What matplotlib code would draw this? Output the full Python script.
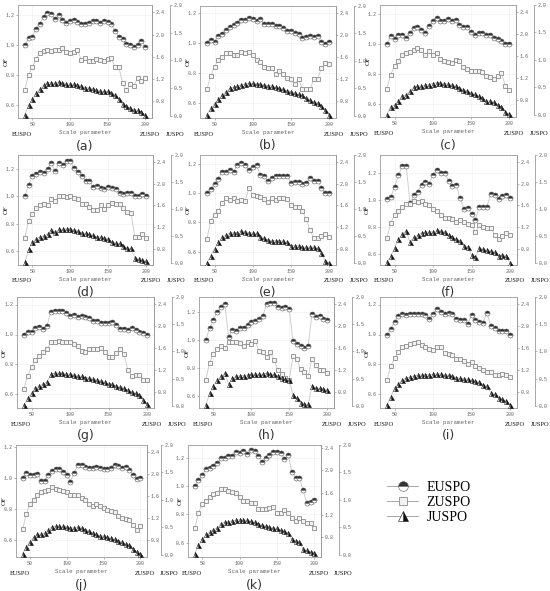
import matplotlib
matplotlib.use("Agg")
import matplotlib.pyplot as plt
from matplotlib.lines import Line2D

scale = [40, 45, 50, 55, 60, 65, 70, 75, 80, 85, 90, 95, 100, 105, 110, 115, 120,
         125, 130, 135, 140, 145, 150, 155, 160, 165, 170, 175, 180, 185, 190, 195, 200]

eu_a = [1.00, 1.045, 1.055, 1.11, 1.145, 1.19, 1.215, 1.21, 1.175, 1.20, 1.17, 1.15, 1.16, 1.17, 1.155, 1.14, 1.145,
        1.15, 1.16, 1.165, 1.15, 1.16, 1.155, 1.14, 1.095, 1.055, 1.04, 1.01, 1.00, 0.985, 1.00, 1.03, 0.99]
zu_a = [1.01, 1.27, 1.41, 1.56, 1.67, 1.70, 1.73, 1.70, 1.73, 1.72, 1.75, 1.69, 1.67, 1.69, 1.72, 1.55, 1.58,
        1.53, 1.52, 1.56, 1.54, 1.53, 1.56, 1.58, 1.41, 1.41, 1.12, 1.00, 1.11, 1.08, 1.22, 1.16, 1.22]
ju_a = [0.01, 0.19, 0.30, 0.41, 0.48, 0.55, 0.60, 0.60, 0.585, 0.61, 0.585, 0.58, 0.57, 0.57, 0.56, 0.54, 0.51,
        0.50, 0.49, 0.47, 0.45, 0.44, 0.44, 0.42, 0.38, 0.31, 0.21, 0.17, 0.14, 0.11, 0.10, 0.07, 0.01]

eu_b = [1.00, 1.02, 1.01, 1.05, 1.065, 1.09, 1.11, 1.12, 1.135, 1.155, 1.155, 1.17, 1.16, 1.15, 1.16, 1.13, 1.13,
        1.13, 1.115, 1.115, 1.105, 1.08, 1.08, 1.07, 1.06, 1.035, 1.04, 1.05, 1.04, 1.05, 1.01, 0.995, 1.01]
zu_b = [1.02, 1.27, 1.42, 1.55, 1.61, 1.67, 1.67, 1.64, 1.64, 1.69, 1.67, 1.69, 1.64, 1.55, 1.52, 1.42, 1.40,
        1.40, 1.29, 1.35, 1.29, 1.23, 1.20, 1.12, 1.20, 1.03, 1.02, 1.02, 1.20, 1.21, 1.41, 1.49, 1.47]
ju_b = [0.02, 0.14, 0.22, 0.30, 0.38, 0.44, 0.50, 0.52, 0.545, 0.56, 0.58, 0.59, 0.59, 0.58, 0.575, 0.56, 0.55,
        0.545, 0.52, 0.50, 0.485, 0.46, 0.44, 0.42, 0.39, 0.37, 0.33, 0.29, 0.25, 0.23, 0.18, 0.11, 0.02]

eu_c = [1.00, 1.05, 1.035, 1.06, 1.06, 1.04, 1.075, 1.105, 1.11, 1.09, 1.075, 1.12, 1.15, 1.175, 1.15, 1.15, 1.165,
        1.15, 1.16, 1.125, 1.11, 1.115, 1.08, 1.06, 1.07, 1.07, 1.06, 1.06, 1.04, 1.03, 1.02, 1.00, 1.00]
zu_c = [1.01, 1.27, 1.42, 1.52, 1.63, 1.66, 1.67, 1.72, 1.75, 1.72, 1.63, 1.69, 1.63, 1.66, 1.55, 1.52, 1.50,
        1.47, 1.53, 1.51, 1.40, 1.37, 1.34, 1.34, 1.33, 1.31, 1.25, 1.22, 1.18, 1.25, 1.29, 1.07, 0.99]
ju_c = [0.00, 0.15, 0.18, 0.26, 0.34, 0.36, 0.43, 0.50, 0.52, 0.52, 0.535, 0.55, 0.57, 0.585, 0.585, 0.57, 0.565,
        0.55, 0.52, 0.49, 0.46, 0.43, 0.40, 0.37, 0.34, 0.31, 0.26, 0.25, 0.23, 0.18, 0.135, 0.06, 0.01]

eu_d = [1.00, 1.085, 1.145, 1.165, 1.175, 1.17, 1.20, 1.24, 1.18, 1.24, 1.225, 1.255, 1.255, 1.205, 1.175, 1.15, 1.11,
        1.11, 1.065, 1.075, 1.06, 1.055, 1.07, 1.06, 1.05, 1.025, 1.015, 1.025, 1.02, 1.00, 1.00, 1.015, 1.005]
zu_d = [1.00, 1.32, 1.44, 1.55, 1.60, 1.63, 1.61, 1.71, 1.69, 1.77, 1.77, 1.75, 1.77, 1.74, 1.71, 1.63, 1.62,
        1.57, 1.52, 1.52, 1.60, 1.53, 1.60, 1.64, 1.62, 1.63, 1.56, 1.48, 1.46, 1.02, 1.02, 1.07, 1.00]
ju_d = [0.01, 0.25, 0.38, 0.45, 0.48, 0.50, 0.53, 0.61, 0.57, 0.62, 0.62, 0.63, 0.63, 0.61, 0.59, 0.56, 0.545,
        0.53, 0.51, 0.48, 0.48, 0.46, 0.44, 0.39, 0.36, 0.36, 0.32, 0.27, 0.27, 0.09, 0.07, 0.05, 0.03]

eu_e = [1.00, 1.03, 1.065, 1.095, 1.145, 1.145, 1.16, 1.145, 1.195, 1.205, 1.19, 1.16, 1.175, 1.19, 1.125, 1.115, 1.08,
        1.10, 1.12, 1.115, 1.115, 1.115, 1.07, 1.075, 1.075, 1.06, 1.07, 1.10, 1.08, 1.08, 1.035, 1.00, 1.00]
zu_e = [0.98, 1.31, 1.43, 1.50, 1.64, 1.73, 1.70, 1.73, 1.68, 1.70, 1.68, 1.92, 1.80, 1.77, 1.76, 1.71, 1.67,
        1.74, 1.70, 1.73, 1.73, 1.71, 1.61, 1.57, 1.57, 1.50, 1.35, 1.14, 0.99, 0.99, 1.03, 1.07, 1.01]
ju_e = [0.00, 0.13, 0.26, 0.38, 0.475, 0.52, 0.55, 0.56, 0.56, 0.59, 0.58, 0.56, 0.55, 0.55, 0.475, 0.46, 0.43,
        0.41, 0.41, 0.41, 0.40, 0.38, 0.32, 0.32, 0.32, 0.29, 0.29, 0.29, 0.29, 0.27, 0.18, 0.04, 0.00]

eu_f = [1.005, 1.02, 1.095, 1.18, 1.25, 1.25, 0.975, 1.035, 1.06, 1.11, 1.13, 1.12, 1.18, 1.22, 1.20, 1.20, 1.14,
        1.10, 1.11, 1.01, 0.935, 0.94, 0.895, 0.855, 0.95, 0.95, 0.95, 1.045, 1.035, 1.005, 1.03, 1.035, 1.01]
zu_f = [1.00, 1.28, 1.42, 1.50, 1.57, 1.62, 1.62, 1.68, 1.66, 1.68, 1.63, 1.60, 1.54, 1.49, 1.42, 1.37, 1.37,
        1.34, 1.30, 1.33, 1.29, 1.26, 1.24, 1.10, 1.24, 1.21, 1.18, 1.18, 1.06, 0.98, 1.04, 1.09, 1.06]
ju_f = [0.01, 0.12, 0.28, 0.44, 0.53, 0.59, 0.38, 0.47, 0.51, 0.56, 0.57, 0.57, 0.575, 0.60, 0.59, 0.575, 0.51,
        0.47, 0.44, 0.41, 0.315, 0.30, 0.145, 0.10, 0.27, 0.255, 0.235, 0.22, 0.205, 0.12, 0.15, 0.12, 0.00]

eu_g = [1.00, 1.02, 1.02, 1.045, 1.05, 1.04, 1.06, 1.15, 1.155, 1.155, 1.155, 1.145, 1.125, 1.13, 1.12, 1.125, 1.12,
        1.11, 1.09, 1.09, 1.075, 1.075, 1.075, 1.085, 1.065, 1.04, 1.035, 1.03, 1.045, 1.03, 1.02, 1.01, 1.00]
zu_g = [0.85, 1.09, 1.25, 1.37, 1.45, 1.52, 1.58, 1.70, 1.71, 1.73, 1.70, 1.70, 1.70, 1.67, 1.64, 1.55, 1.52,
        1.58, 1.57, 1.57, 1.59, 1.52, 1.43, 1.43, 1.51, 1.58, 1.49, 1.19, 1.09, 1.10, 1.10, 1.02, 1.02]
ju_g = [0.01, 0.15, 0.23, 0.32, 0.37, 0.40, 0.44, 0.58, 0.60, 0.60, 0.60, 0.59, 0.58, 0.57, 0.555, 0.54, 0.52,
        0.51, 0.49, 0.475, 0.46, 0.43, 0.41, 0.395, 0.37, 0.35, 0.32, 0.29, 0.26, 0.23, 0.20, 0.105, 0.025]

eu_h = [1.00, 1.085, 1.145, 1.20, 1.24, 1.26, 1.02, 1.075, 1.065, 1.09, 1.09, 1.11, 1.13, 1.14, 1.155, 1.17, 1.26,
        1.265, 1.27, 1.24, 1.23, 1.235, 1.22, 0.99, 0.97, 0.955, 0.94, 0.96, 1.19, 1.165, 1.175, 1.15, 1.145]
zu_h = [1.01, 1.33, 1.49, 1.57, 1.64, 1.59, 1.71, 1.71, 1.71, 1.69, 1.64, 1.70, 1.67, 1.73, 1.55, 1.52, 1.43,
        1.52, 1.38, 1.19, 1.13, 1.05, 1.01, 1.45, 1.40, 1.21, 1.16, 1.09, 1.40, 1.28, 1.19, 1.19, 1.14]
ju_h = [0.01, 0.23, 0.37, 0.475, 0.54, 0.60, 0.40, 0.51, 0.54, 0.555, 0.555, 0.57, 0.58, 0.58, 0.58, 0.58, 0.60,
        0.58, 0.58, 0.555, 0.52, 0.49, 0.475, 0.20, 0.135, 0.06, 0.025, 0.025, 0.37, 0.33, 0.32, 0.31, 0.29]

eu_i = [1.00, 1.04, 1.085, 1.125, 1.135, 1.13, 1.14, 1.135, 1.135, 1.135, 1.13, 1.105, 1.14, 1.17, 1.15, 1.14, 1.145,
        1.135, 1.105, 1.095, 1.095, 1.07, 1.13, 1.10, 1.085, 1.08, 1.145, 1.055, 1.045, 1.025, 1.025, 1.025, 1.00]
zu_i = [1.01, 1.27, 1.41, 1.53, 1.61, 1.64, 1.67, 1.68, 1.70, 1.65, 1.62, 1.58, 1.56, 1.61, 1.61, 1.50, 1.49,
        1.47, 1.39, 1.39, 1.36, 1.31, 1.34, 1.27, 1.24, 1.19, 1.16, 1.16, 1.10, 1.10, 1.13, 1.10, 1.07]
ju_i = [0.02, 0.165, 0.32, 0.41, 0.47, 0.51, 0.53, 0.55, 0.56, 0.57, 0.57, 0.57, 0.58, 0.59, 0.58, 0.57, 0.56,
        0.55, 0.52, 0.51, 0.50, 0.49, 0.47, 0.45, 0.43, 0.39, 0.37, 0.24, 0.21, 0.15, 0.12, 0.09, 0.02]

eu_j = [1.00, 1.03, 1.02, 1.015, 1.025, 0.98, 0.98, 1.015, 1.045, 1.055, 1.055, 1.035, 1.02, 0.975, 1.03, 1.08, 1.08,
        1.07, 1.06, 1.065, 1.07, 1.06, 1.055, 1.055, 1.065, 1.08, 1.075, 1.065, 1.07, 1.05, 1.015, 0.99, 1.00]
zu_j = [1.00, 1.28, 1.46, 1.54, 1.63, 1.67, 1.69, 1.71, 1.77, 1.73, 1.71, 1.69, 1.68, 1.63, 1.63, 1.63, 1.57,
        1.53, 1.46, 1.43, 1.46, 1.42, 1.38, 1.35, 1.34, 1.31, 1.24, 1.21, 1.19, 1.17, 1.08, 0.99, 1.06]
ju_j = [0.02, 0.15, 0.24, 0.32, 0.37, 0.37, 0.40, 0.46, 0.51, 0.52, 0.52, 0.52, 0.51, 0.49, 0.49, 0.51, 0.49,
        0.46, 0.43, 0.40, 0.37, 0.35, 0.34, 0.32, 0.30, 0.28, 0.26, 0.23, 0.20, 0.18, 0.10, 0.05, 0.01]

eu_k = [1.00, 1.04, 1.08, 1.12, 1.13, 1.145, 1.16, 1.20, 1.20, 1.21, 1.215, 1.24, 1.235, 1.245, 1.23, 1.255, 1.245,
        1.215, 1.17, 1.20, 1.22, 1.24, 1.24, 1.235, 1.19, 1.22, 1.10, 1.06, 1.06, 0.97, 0.88, 0.89, 0.90]
zu_k = [0.96, 1.24, 1.39, 1.45, 1.52, 1.57, 1.60, 1.66, 1.66, 1.63, 1.61, 1.60, 1.52, 1.45, 1.45, 1.42, 1.41,
        1.30, 1.30, 1.30, 1.32, 1.35, 1.24, 1.24, 1.29, 1.24, 1.15, 1.09, 1.15, 1.09, 1.05, 1.05, 0.96]
ju_k = [0.02, 0.17, 0.28, 0.37, 0.41, 0.46, 0.49, 0.57, 0.59, 0.60, 0.62, 0.63, 0.64, 0.63, 0.63, 0.61, 0.60,
        0.57, 0.54, 0.52, 0.51, 0.49, 0.48, 0.45, 0.43, 0.40, 0.28, 0.26, 0.23, 0.10, 0.08, 0.05, 0.04]

panel_names = ["(a)", "(b)", "(c)", "(d)", "(e)", "(f)", "(g)", "(h)", "(i)", "(j)", "(k)"]
series = [(eu_a, zu_a, ju_a), (eu_b, zu_b, ju_b), (eu_c, zu_c, ju_c), (eu_d, zu_d, ju_d),
          (eu_e, zu_e, ju_e), (eu_f, zu_f, ju_f), (eu_g, zu_g, ju_g), (eu_h, zu_h, ju_h),
          (eu_i, zu_i, ju_i), (eu_j, zu_j, ju_j), (eu_k, zu_k, ju_k)]

# axis ranges per panel (left OF axis and ZUSPO axis)
of_lims = [(0.51, 1.27), (0.50, 1.25), (0.51, 1.26), (0.50, 1.30), (0.51, 1.26), (0.52, 1.33),
           (0.51, 1.25), (0.51, 1.31), (0.51, 1.25), (0.49, 1.21), (0.50, 1.29)]
zu_lims = [(0.5, 2.53)] * 10 + [(0.45, 2.45)]

# panel frames in pixels: left, top, width, height
boxes = [(18, 5, 134, 113), (200, 6, 136, 112), (380, 5, 136, 112),
         (18, 155, 135, 110), (200, 155, 136, 110), (380, 155, 137, 110),
         (17, 297, 137, 111), (199, 297, 135, 111), (380, 297, 137, 111),
         (16, 445, 131, 112), (188, 445, 133, 112)]
# x position of the "OF" label (axes fraction) and offset of the outer axis (pt)
of_x = [-0.09] * 10 + [-0.06]
outer = [13] * 9 + [10, 13]

W, H = 550, 591
fig = plt.figure(figsize=(W / 100, H / 100), dpi=100)

gray = "#9a9a9a"
tick_font = dict(family="Liberation Mono", size=3.6)
eu_style = dict(marker="o", ms=3.6, fillstyle="top", mfc="#333333", mfcalt="white",
                mec="#555555", mew=0.4, color="#c8c8c8", lw=0.6)
zu_style = dict(marker="s", ms=3.0, mfc="#f2f2f2", mec="#8c8c8c", mew=0.6, color="#c8c8c8", lw=0.6)
ju_style = dict(marker="^", ms=3.6, fillstyle="right", mfc="#111111", mfcalt="white",
                mec="#111111", mew=0.4, color="#c8c8c8", lw=0.6)


def style_ticks(axis_obj):
    axis_obj.tick_params(direction="out", length=1.6, width=0.5, colors=gray, pad=1.0,
                         labelsize=tick_font["size"], labelcolor="#666666")
    for lab in axis_obj.get_xticklabels() + axis_obj.get_yticklabels():
        lab.set_family(tick_font["family"])


for i, name in enumerate(panel_names):
    l, t, w, h = boxes[i]
    ax = fig.add_axes([l / W, 1 - (t + h) / H, w / W, h / H])
    eu, zu, ju = series[i]

    ax.plot(scale, eu, **eu_style, zorder=3)
    ax.set_xlim(31, 209)
    ax.set_ylim(*of_lims[i])
    ax.set_xticks([50, 100, 150, 200])
    ax.set_yticks([0.6, 0.8, 1.0, 1.2])
    ax.grid(True, color="#eeeeee", lw=0.4)
    ax.set_axisbelow(True)
    for s in ax.spines.values():
        s.set_color(gray)
        s.set_linewidth(0.6)
    style_ticks(ax)

    ax2 = ax.twinx()
    ax2.plot(scale, zu, **zu_style)
    ax2.set_ylim(*zu_lims[i])
    ax2.set_yticks([0.8, 1.2, 1.6, 2.0, 2.4])
    for k in ["left", "top", "bottom"]:
        ax2.spines[k].set_visible(False)
    ax2.spines["right"].set_color(gray)
    ax2.spines["right"].set_linewidth(0.6)
    style_ticks(ax2)

    ax3 = ax.twinx()
    ax3.plot(scale, ju, **ju_style)
    ax3.set_ylim(-0.04, 2.0)
    ax3.set_yticks([0.0, 0.5, 1.0, 1.5, 2.0])
    for k in ["left", "top", "bottom"]:
        ax3.spines[k].set_visible(False)
    ax3.spines["right"].set_position(("outward", outer[i]))
    ax3.spines["right"].set_bounds(0, 2.0)
    ax3.spines["right"].set_color(gray)
    ax3.spines["right"].set_linewidth(0.6)
    style_ticks(ax3)

    ax.text(of_x[i], 0.5, "OF", rotation=90, transform=ax.transAxes, ha="center", va="center",
            family="Liberation Serif", fontsize=5, color="#222222")
    ax.text(0.5, -0.13, "Scale parameter", transform=ax.transAxes, ha="center", va="center",
            family="Liberation Mono", fontsize=4.2, color="#666666")
    ax.text(0.03, -0.145, "EUSPO", transform=ax.transAxes, ha="center", va="center",
            family="Liberation Serif", fontsize=4.6, color="#111111")
    ax.text(0.985, -0.145, "ZUSPO", transform=ax.transAxes, ha="center", va="center",
            family="Liberation Serif", fontsize=4.6, color="#111111")
    ax.text(1.17, -0.145, "JUSPO", transform=ax.transAxes, ha="center", va="center",
            family="Liberation Serif", fontsize=4.6, color="#111111")
    ax.text(0.5, -0.25, name, transform=ax.transAxes, ha="center", va="center",
            family="DejaVu Sans", fontsize=9, color="#333333")

handles = [Line2D([], [], **{**eu_style, "ms": 7, "color": "#999999"}),
           Line2D([], [], **{**zu_style, "ms": 6, "color": "#999999"}),
           Line2D([], [], **{**ju_style, "ms": 7, "color": "#999999"})]
fig.legend(handles, ["EUSPO", "ZUSPO", "JUSPO"], loc="center", bbox_to_anchor=(0.78, 0.15),
           frameon=False, prop=dict(family="Liberation Serif", size=10), handlelength=2.2,
           labelspacing=0.15, handletextpad=0.6)

fig.savefig("out.png", dpi=100)
